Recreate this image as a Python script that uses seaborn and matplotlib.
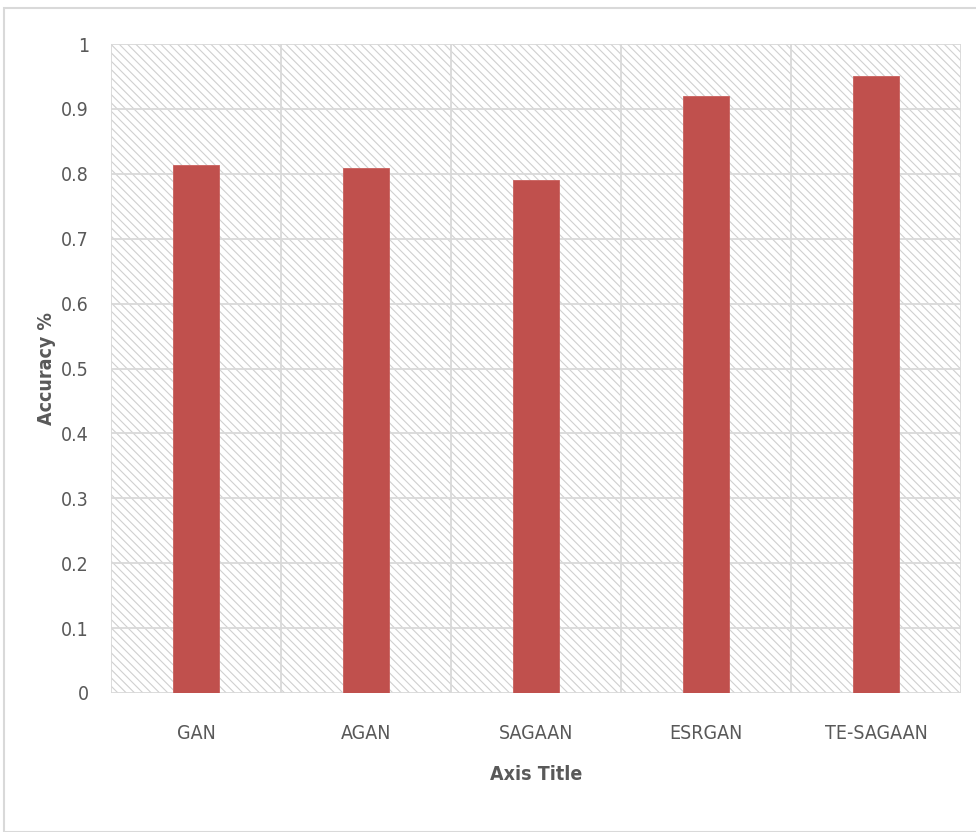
import matplotlib
matplotlib.use("Agg")
import matplotlib.pyplot as plt
import seaborn as sns
import pandas as pd
from matplotlib.patches import Rectangle

models = ['GAN', 'AGAN', 'SAGAAN', 'ESRGAN', 'TE-SAGAAN']
accuracy = [0.813, 0.809, 0.790, 0.920, 0.951]
yticks = [0, 0.1, 0.2, 0.3, 0.4, 0.5, 0.6, 0.7, 0.8, 0.9, 1]
ytick_labels = ['0', '0.1', '0.2', '0.3', '0.4', '0.5', '0.6', '0.7', '0.8', '0.9', '1']

sns.set_theme(style="white")
plt.rcParams['font.family'] = ['DejaVu Sans']
plt.rcParams['font.stretch'] = 'condensed'
plt.rcParams['hatch.linewidth'] = 0.8
plt.rcParams['hatch.color'] = '#d0d0d0'

df = pd.DataFrame({'model': models, 'acc': accuracy})

fig = plt.figure(figsize=(9.76, 8.32), dpi=100)
fig.patches.append(Rectangle((4/976, 0), 1.0, 1 - 8/832, transform=fig.transFigure,
                             fill=False, edgecolor='#d9d9d9', lw=1.5))
ax = fig.add_axes([111/976, 1 - 693/832, 850/976, 649/832])

# diagonal hatch fill behind the plot, like the excel pattern
ax.add_patch(Rectangle((0, 0), 1, 1, transform=ax.transAxes, fill=False,
                       hatch='\\\\\\\\', edgecolor='#d0d0d0', lw=0, zorder=0))

sns.barplot(data=df, x='model', y='acc', color='#c0504d', width=0.265,
            saturation=1, edgecolor='#c9605d', linewidth=0.6, ax=ax, zorder=3)

ax.set_ylim(0, 1)
ax.set_xlim(-0.5, len(models) - 0.5)
ax.set_yticks(yticks)
ax.set_yticklabels(ytick_labels)
ax.set_xticks(range(len(models)), minor=False)
ax.set_xticks([i - 0.5 for i in range(len(models) + 1)], minor=True)
ax.grid(axis='y', which='major', color='#d9d9d9', lw=1.3, zorder=1)
ax.grid(axis='x', which='minor', color='#d9d9d9', lw=1.3, zorder=1)
ax.grid(axis='x', which='major', visible=False)
ax.set_axisbelow(True)
for s in ax.spines.values():
    s.set_visible(False)
ax.tick_params(axis='both', which='both', length=0, labelsize=14, colors='#595959')
ax.tick_params(axis='x', pad=22)
ax.tick_params(axis='y', pad=16)

ax.set_xlabel('Axis Title', fontsize=14, fontweight='bold', color='#595959')
ax.set_ylabel('Accuracy %', fontsize=14, fontweight='bold', color='#595959')
ax.xaxis.set_label_coords(0.5, (693 - 775) / 649, transform=ax.transAxes)
ax.yaxis.set_label_coords((47 - 111) / 850, 0.5, transform=ax.transAxes)
ax.xaxis.label.set_va('center')
ax.yaxis.label.set_va('center')

fig.savefig('out.png', dpi=100)
